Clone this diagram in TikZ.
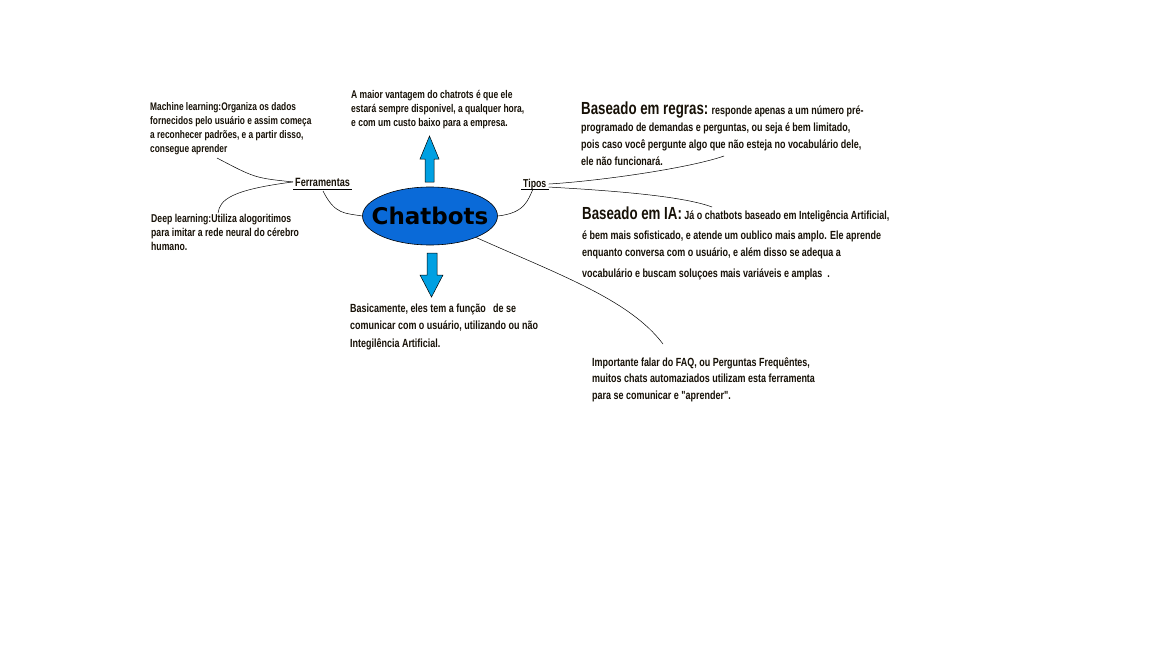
\documentclass[tikz,border=0pt]{standalone}
\usepackage{fontspec}
\setmainfont{Liberation Sans}
\newfontfamily\agency[FakeStretch=0.76]{Liberation Sans}
\newfontfamily\heavy{DejaVu Sans}
\usetikzlibrary{positioning,calc,shapes.geometric}
\definecolor{ovalcol} {RGB}{10,106,216}
\definecolor{arrowcol}{RGB}{0,160,226}
\definecolor{inkcol}  {RGB}{22,16,6}

\begin{document}
\begin{tikzpicture}[x=1pt,y=-1pt,
  txt/.style={anchor=base west,inner sep=0pt,align=left,text=inkcol,
              font=\agency\bfseries\fontsize{11}{14}\selectfont},
  ulbl/.style={anchor=base west,inner xsep=2pt,inner ysep=0pt,text=inkcol,
               font=\agency\bfseries\fontsize{12}{14}\selectfont},
  oval/.style={ellipse,draw=black,fill=ovalcol,line width=0.6pt,
               minimum width=135pt,minimum height=58pt,inner sep=0pt},
  barr/.style={draw=black,fill=arrowcol,line width=0.5pt},
  conn/.style={draw=black,line width=0.5pt}
]
\useasboundingbox (0,0) rectangle (1152,648);
% centre
\node[oval] (chat) at (430,216) {};
\node[font=\heavy\bfseries\fontsize{23}{23}\selectfont,text=black] (chatlbl)
  at (chat.center) {Chatbots};
% block arrows
\draw[barr] (425,182)--(425,159)--(420,159)--(429.5,136)--(439,159)
  --(434,159)--(434,182)--cycle;
\draw[barr] (427,253)--(427,275)--(420,275)--(431.5,297)--(443,275)
  --(437,275)--(437,253)--cycle;
% texts (base = last line)
\node[txt,font=\agency\bfseries\fontsize{11.2}{14}\selectfont] (vant) at (351,126)
  {A maior vantagem do chatrots é que ele\\
   estará sempre disponivel, a qualquer hora,\\
   e com um custo baixo para a empresa.};
\node[txt] (ml) at (150,152)
  {Machine learning:Organiza os dados\\
   fornecidos pelo usuário e assim começa\\
   a reconhecer padrões, e a partir disso,\\
   consegue aprender};
\node[txt,font=\agency\bfseries\fontsize{11.4}{14}\selectfont] (dl) at (151,250)
  {Deep learning:Utiliza alogoritimos\\
   para imitar a rede neural do cérebro\\
   humano.};
\node[ulbl] (fer) at (293,186) {Ferramentas};
\node[ulbl,font=\agency\bfseries\fontsize{11.5}{14}\selectfont] (tip) at (521,187) {Tipos};
\node[txt,font=\agency\bfseries\fontsize{11.8}{17}\selectfont] (regras) at (581,165)
  {{\agency\bfseries\fontsize{17.5}{17}\selectfont Baseado em regras:} responde apenas a um número pré-\\
   programado de demandas e perguntas, ou seja é bem limitado,\\
   pois caso você pergunte algo que não esteja no vocabulário dele,\\
   ele não funcionará.};
\node[txt,font=\agency\bfseries\fontsize{11.8}{17}\selectfont] (ia) at (582,277)
  {{\agency\bfseries\fontsize{17.5}{17}\selectfont Baseado em IA:} Já o chatbots baseado em Inteligência Artificial,\\[3pt]
   é bem mais sofisticado, e atende um oublico mais amplo. Ele aprende\\
   enquanto conversa com o usuário, e além disso se adequa a\\[4pt]
   vocabulário e buscam soluçoes mais variáveis e amplas \ .};
\node[txt,font=\agency\bfseries\fontsize{11.8}{17.5}\selectfont] (basic) at (350,347)
  {Basicamente, eles tem a função \ \ de se\\
   comunicar com o usuário, utilizando ou não\\
   Integilência Artificial.};
\node[txt,font=\agency\bfseries\fontsize{11.8}{16.5}\selectfont] (faq) at (592,399)
  {Importante falar do FAQ, ou Perguntas Frequêntes,\\
   muitos chats automaziados utilizam esta ferramenta\\
   para se comunicar e "aprender".};
% underlines
\draw[conn] ($(fer.base west)+(0,3)$)--($(fer.base east)+(0,3)$);
\draw[conn] ($(tip.base west)+(0,2)$)--($(tip.base east)+(0,2)$);
% free ends
\coordinate (mlEnd)  at (217,158);
\coordinate (dlEnd)  at (218,213);
\coordinate (regEnd) at (724,156);
\coordinate (iaEnd)  at (712,207);
\coordinate (faqEnd) at (663,344);
% connectors
\draw[conn] (fer.west) .. controls (255,178) .. (mlEnd);
\draw[conn] (fer.west) .. controls (230,190) and (220,200) .. (dlEnd);
\draw[conn] ([xshift=30pt,yshift=-5pt]fer.base west) .. controls (335,215) and (345,213) .. (chat.west);
\draw[conn] (chat.east) .. controls (525,213) and (528,200) .. ([xshift=12pt,yshift=-2pt]tip.base west);
\draw[conn] (tip.east) .. controls (600,181) and (690,168) .. (regEnd);
\draw[conn] ([yshift=-3pt]tip.east) .. controls (600,190) and (680,195) .. (iaEnd);
\draw[conn] (chat.-25) .. controls (560,275) and (630,300) .. (faqEnd);
\end{tikzpicture}
\end{document}
